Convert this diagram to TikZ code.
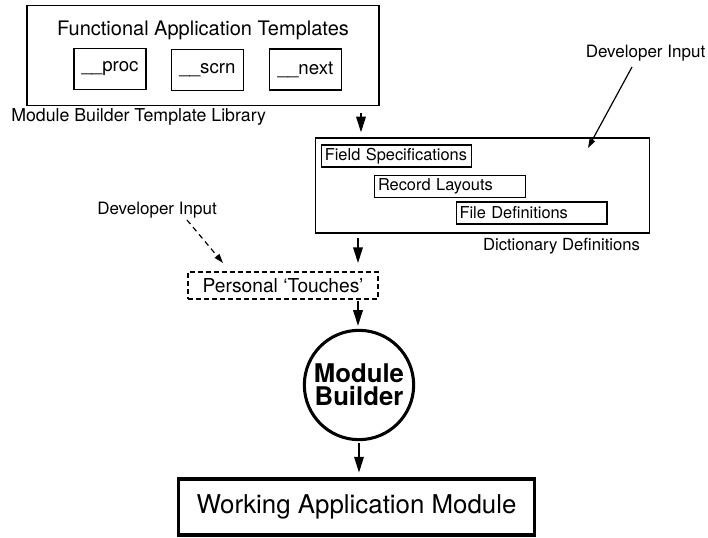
\documentclass[tikz,border=0pt]{standalone}
\usepackage{fontspec}
\setmainfont{TeX Gyre Heros}
\usetikzlibrary{arrows.meta}
\begin{document}
\begin{tikzpicture}[x=0.75pt,y=-0.75pt,
  frame/.style={draw, line width=1.1pt, inner sep=0pt},
  tmpl/.style={draw, line width=1.1pt, inner sep=0pt, minimum width=54pt, minimum height=30.5pt,
    font=\fontsize{14}{16}\selectfont},
  dictitem/.style={draw, line width=1pt, inner xsep=2.5pt, inner ysep=0pt, align=left,
    text width=108pt, minimum height=16.3pt, font=\fontsize{12.3}{14}\selectfont},
  lbl/.style={inner sep=0pt},
  flow/.style={line width=1.8pt, -{Triangle[width=7pt,length=12pt]}},
  thinflow/.style={line width=0.9pt, -{Triangle[width=4.5pt,length=7pt]}},
  dashflow/.style={line width=0.9pt, dash pattern=on 4pt off 3pt, -{Triangle[width=4.5pt,length=7pt]}}
]
\useasboundingbox (0,0) rectangle (708,538);

% template library
\node[frame, minimum width=264pt, minimum height=75pt] (lib) at (203,55.5) {};
\node[lbl, font=\fontsize{15}{18}\selectfont] (libtitle) at (203,30) {Functional Application Templates};
\node[tmpl] (proc) at (110,69) {\_\_proc};
\node[tmpl] (scrn) at (207.5,70) {\_\_scrn};
\node[tmpl] (next) at (305.5,69.5) {\_\_next};
\node[lbl, anchor=west, font=\fontsize{13.3}{16}\selectfont] (libname) at (11,117) {Module Builder Template Library};

% dictionary definitions
\node[frame, minimum width=250.5pt, minimum height=71.25pt] (dict) at (482.5,185.5) {};
\node[dictitem, text width=107.5pt] (field) at (396.5,156) {Field Specifications};
\node[dictitem] (record) at (450,186.5) {Record Layouts};
\node[dictitem] (file) at (531.5,213) {File Definitions};
\node[lbl, font=\fontsize{12.5}{15}\selectfont] (dictname) at (561.5,246) {Dictionary Definitions};

% developer inputs
\node[lbl, font=\fontsize{12.75}{15}\selectfont] (devR) at (645.5,53) {Developer Input};
\node[lbl, font=\fontsize{12.75}{15}\selectfont] (devL) at (157,210) {Developer Input};
\coordinate (devRtail) at (632,67);
\coordinate (devRhead) at (588,148);
\coordinate (devLtail) at (187,220);
\coordinate (devLhead) at (223,263);

% personal touches
\node[draw, line width=1pt, dash pattern=on 3.5pt off 2.5pt, inner sep=0pt,
  minimum width=142.5pt, minimum height=20.25pt, font=\fontsize{14.4}{17}\selectfont] (touch) at (283,285.5)
  {Personal `Touches'};

% module builder
\node[draw, circle, line width=2.3pt, minimum size=82pt, inner sep=0pt, align=center,
  font=\fontsize{19.3}{17}\bfseries\selectfont] (mb) at (359,385) {Module\\Builder};

% result
\node[draw, line width=2.3pt, inner sep=0pt, minimum width=267pt, minimum height=42pt,
  font=\fontsize{19.4}{22}\selectfont] (work) at (356.5,507) {Working Application Module};

% connectors
\coordinate (xa) at (361,0);
\coordinate (xb) at (358,0);
\coordinate (xc) at (359,0);
\draw[flow, shorten <=5pt, shorten >=3.5pt] (lib.south -| xa) -- (dict.north -| xa);
\draw[flow, shorten <=3pt, shorten >=6pt] (dict.south -| xb) -- (touch.north -| xb);
\draw[flow, shorten <=1pt, shorten >=2pt] (touch.south -| xb) -- (mb.north -| xb);
\draw[flow, shorten <=1pt, shorten >=3.5pt] (mb.south) -- (work.north -| xc);
\draw[thinflow] (devRtail) -- (devRhead);
\draw[dashflow] (devLtail) -- (devLhead);
\end{tikzpicture}
\end{document}
